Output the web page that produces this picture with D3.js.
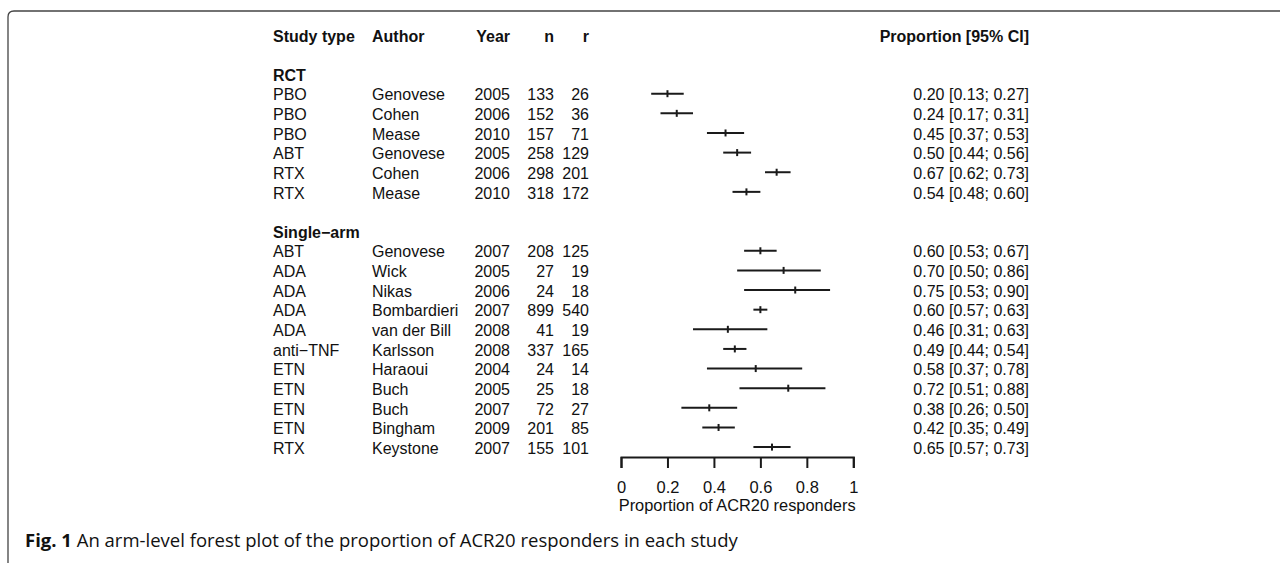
<!DOCTYPE html>
<html>
<head>
<meta charset="utf-8">
<script src="https://cdn.jsdelivr.net/npm/d3@7"></script>
<style>
  html, body { margin: 0; padding: 0; background: #fff; }
  svg { display: block; }
  .tbl { font-family: "Liberation Sans", Arial, Helvetica, sans-serif; font-size: 16px; fill: #111; }
  .bold { font-weight: bold; }
</style>
</head>
<body>
<svg id="chart" width="1280" height="563"></svg>
<script>
// Forest plot: arm-level proportion of ACR20 responders, grouped by study type
const groupLabels = ["RCT", "Single\u2212arm"];
const studyType = ["PBO", "PBO", "PBO", "ABT", "RTX", "RTX",
                   "ABT", "ADA", "ADA", "ADA", "ADA", "anti\u2212TNF", "ETN", "ETN", "ETN", "ETN", "RTX"];
const studyGroup = [0, 0, 0, 0, 0, 0, 1, 1, 1, 1, 1, 1, 1, 1, 1, 1, 1];
const author = ["Genovese", "Cohen", "Mease", "Genovese", "Cohen", "Mease",
                "Genovese", "Wick", "Nikas", "Bombardieri", "van der Bill", "Karlsson", "Haraoui", "Buch", "Buch", "Bingham", "Keystone"];
const year = [2005, 2006, 2010, 2005, 2006, 2010,
              2007, 2005, 2006, 2007, 2008, 2008, 2004, 2005, 2007, 2009, 2007];
const nTotal = [133, 152, 157, 258, 298, 318,
                208, 27, 24, 899, 41, 337, 24, 25, 72, 201, 155];
const nResp = [26, 36, 71, 129, 201, 172,
               125, 19, 18, 540, 19, 165, 14, 18, 27, 85, 101];
const proportion = [0.20, 0.24, 0.45, 0.50, 0.67, 0.54,
                    0.60, 0.70, 0.75, 0.60, 0.46, 0.49, 0.58, 0.72, 0.38, 0.42, 0.65];
const ciLower = [0.13, 0.17, 0.37, 0.44, 0.62, 0.48,
                 0.53, 0.50, 0.53, 0.57, 0.31, 0.44, 0.37, 0.51, 0.26, 0.35, 0.57];
const ciUpper = [0.27, 0.31, 0.53, 0.56, 0.73, 0.60,
                 0.67, 0.86, 0.90, 0.63, 0.63, 0.54, 0.78, 0.88, 0.50, 0.49, 0.73];
const xTicks = [0, 0.2, 0.4, 0.6, 0.8, 1];
const xTitle = "Proportion of ACR20 responders";
const headers = ["Study type", "Author", "Year", "n", "r", "Proportion [95% CI]"];

const svg = d3.select("#chart");

// Row layout: header, blank, group label, studies..., blank, group label, studies...
const rows = [];
rows.push({ kind: "header", slot: -3 });
let slot = -1;
groupLabels.forEach((g, gi) => {
  rows.push({ kind: "group", slot: slot, label: g });
  slot += 1;
  studyType.forEach((t, i) => {
    if (studyGroup[i] === gi) { rows.push({ kind: "study", slot: slot, i: i }); slot += 1; }
  });
  slot += 1;
});
const lastSlot = d3.max(rows, d => d.slot);

const y = d3.scaleLinear().domain([0, lastSlot]).range([93.7, 447.1]);
const x = d3.scaleLinear().domain([0, 1]).range([621, 853.3]);

const col = { type: 273, author: 372, year: 510, n: 554, r: 589, est: 1029 };
const base = 6.7; // text baseline offset from row centre

// Frame around the figure panel
const fr = { x: 8, y: 11, r: 6 };
svg.append("path")
  .attr("d", `M${fr.x},563 V${fr.y + fr.r} Q${fr.x},${fr.y} ${fr.x + fr.r},${fr.y} H1280`)
  .attr("fill", "none").attr("stroke", "#444").attr("stroke-width", 1.3);

const tbl = svg.append("g").attr("class", "tbl");

// Column headers
const hy = y(-3) + base;
tbl.append("text").attr("class", "bold").attr("x", col.type).attr("y", hy).text(headers[0]);
tbl.append("text").attr("class", "bold").attr("x", col.author).attr("y", hy).text(headers[1]);
tbl.append("text").attr("class", "bold").attr("x", col.year).attr("y", hy).attr("text-anchor", "end").text(headers[2]);
tbl.append("text").attr("class", "bold").attr("x", col.n).attr("y", hy).attr("text-anchor", "end").text(headers[3]);
tbl.append("text").attr("class", "bold").attr("x", col.r).attr("y", hy).attr("text-anchor", "end").text(headers[4]);
tbl.append("text").attr("class", "bold").attr("x", col.est).attr("y", hy).attr("text-anchor", "end").text(headers[5]);

// Group labels
tbl.selectAll("text.grp").data(rows.filter(d => d.kind === "group")).join("text")
  .attr("class", "grp bold").attr("x", col.type).attr("y", d => y(d.slot) + base).text(d => d.label);

// Study rows
const studies = rows.filter(d => d.kind === "study");
const srow = tbl.selectAll("g.study").data(studies).join("g")
  .attr("class", "study").attr("transform", d => `translate(0,${y(d.slot) + base})`);
srow.append("text").attr("x", col.type).text(d => studyType[d.i]);
srow.append("text").attr("x", col.author).text(d => author[d.i]);
srow.append("text").attr("x", col.year).attr("text-anchor", "end").text(d => year[d.i]);
srow.append("text").attr("x", col.n).attr("text-anchor", "end").text(d => nTotal[d.i]);
srow.append("text").attr("x", col.r).attr("text-anchor", "end").text(d => nResp[d.i]);
srow.append("text").attr("x", col.est).attr("text-anchor", "end")
  .text(d => `${proportion[d.i].toFixed(2)} [${ciLower[d.i].toFixed(2)}; ${ciUpper[d.i].toFixed(2)}]`);

// Confidence intervals and point estimates
const marks = svg.append("g");
marks.selectAll("line.ci").data(studies).join("line")
  .attr("class", "ci")
  .attr("x1", d => x(ciLower[d.i])).attr("x2", d => x(ciUpper[d.i]))
  .attr("y1", d => y(d.slot)).attr("y2", d => y(d.slot))
  .attr("stroke", "#1a1a1a").attr("stroke-width", 2);
marks.selectAll("line.est").data(studies).join("line")
  .attr("class", "est")
  .attr("x1", d => x(proportion[d.i])).attr("x2", d => x(proportion[d.i]))
  .attr("y1", d => y(d.slot) - 3.5).attr("y2", d => y(d.slot) + 3.5)
  .attr("stroke", "#1a1a1a").attr("stroke-width", 2);

// x axis
const axisY = 457;
const axis = svg.append("g").attr("transform", `translate(0,${axisY})`)
  .call(d3.axisBottom(x).tickValues(xTicks).tickFormat(d3.format("~g")).tickSize(11).tickSizeOuter(11).tickPadding(13.3));
axis.select(".domain").attr("stroke", "#1a1a1a").attr("stroke-width", 2);
axis.selectAll(".tick line").attr("stroke", "#1a1a1a").attr("stroke-width", 2);
axis.selectAll(".tick text")
  .attr("font-family", "'Liberation Sans', Arial, Helvetica, sans-serif")
  .attr("font-size", 16.5).attr("fill", "#111");

svg.append("text").attr("class", "tbl").attr("font-size", 16.4).style("font-size", "16.4px")
  .attr("x", (x(0) + x(1)) / 2).attr("y", 511).attr("text-anchor", "middle").text(xTitle);

// Figure caption
const cap = svg.append("text")
  .attr("x", 25).attr("y", 547)
  .attr("font-family", "'Open Sans', 'Noto Sans', sans-serif")
  .attr("font-size", 18.5).attr("fill", "#111");
cap.append("tspan").attr("font-weight", "bold").text("Fig. 1");
cap.append("tspan").text(" An arm-level forest plot of the proportion of ACR20 responders in each study");
</script>
</body>
</html>
